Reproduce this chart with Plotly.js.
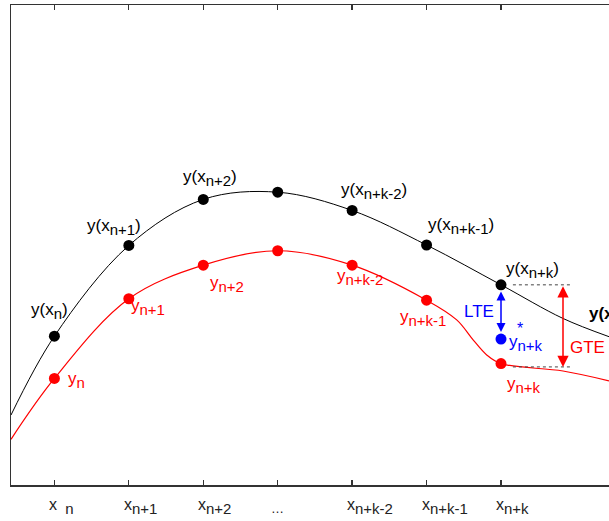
<!DOCTYPE html>
<html>
<head>
<meta charset="utf-8">
<script src="https://cdn.plot.ly/plotly-3.0.1.min.js"></script>
<style>html,body{margin:0;padding:0;background:#fff;overflow:hidden;}#chart{width:609px;height:521px;}</style>
</head>
<body>
<div id="chart"></div>
<script>
// ---- data ----
const tickPos = [0, 1, 2, 3, 4, 5, 6];
const tickSubs = ["\u00a0\u00a0n", "n+1", "n+2", null, "n+k-2", "n+k-1", "n+k"];
const exactY = [3.10, 4.99, 5.95, 6.10, 5.72, 5.00, 4.17];     // y(x_i)
const numY   = [2.22, 3.88, 4.58, 4.88, 4.58, 3.85, 2.53];     // y_i
const predX = 6;
const predY = 3.04;                                            // y*_{n+k}
const exactCurveX = [-0.583, 0, 1, 2, 3, 4, 5, 6, 6.833, 7.451];
const exactCurveY = [1.458, 3.10, 4.99, 5.95, 6.10, 5.72, 5.00, 4.17, 3.47, 3.09];
const numCurveX = [-0.583, 0, 1, 2, 3, 4, 5, 5.405, 5.628, 5.808, 6, 6.833, 7.451];
const numCurveY = [0.952, 2.22, 3.88, 4.58, 4.88, 4.58, 3.85, 3.44, 3.02, 2.71, 2.53, 2.375, 2.17];
const lteTop = 4.06, lteBottom = 3.19;
const gteX = 6.833, gteTop = 4.17, gteBottom = 2.46;
const dotEndX = 6.954;
const exactLabelSubs = ["n", "n+1", "n+2", null, "n+k-2", "n+k-1", "n+k"];
const numLabelSubs   = ["n", "n+1", "n+2", null, "n+k-2", "n+k-1", "n+k"];

// ---- styling ----
const FONT = "Liberation Sans, Arial, Helvetica, sans-serif";
// subscript: wrapper span sets size, <sub> takes 70% of it
const sub = (s, px) => `<span style="font-size:${(px / 0.7).toFixed(1)}px"><sub>${s}</sub></span>`;

const traces = [
  {x: exactCurveX, y: exactCurveY, mode: "lines", line: {color: "#000", width: 1, shape: "spline", smoothing: 1}, hoverinfo: "skip"},
  {x: numCurveX, y: numCurveY, mode: "lines", line: {color: "#ff0000", width: 1.2, shape: "spline", smoothing: 1}, hoverinfo: "skip"},
  {x: tickPos, y: exactY, mode: "markers", marker: {color: "#000", size: 11}},
  {x: tickPos, y: numY, mode: "markers", marker: {color: "#ff0000", size: 11}},
  {x: [predX], y: [predY], mode: "markers", marker: {color: "#0000ff", size: 11}}
];

// label offsets (pixels) relative to their points
const exactShift = [[-5, 25], [-15, 18.5], [7, 21], null, [21.7, 19.3], [34.3, 19], [31.5, 14.4]];
const numShift   = [[22, -1.5], [19, -8.5], [24, -19], null, [7.7, -12], [-4, -18], [22.6, -21]];

const ann = [];
// x tick labels (x sits at the tick, subscript hangs to the right)
tickPos.forEach((xv, i) => {
  const isDots = tickSubs[i] === null;
  ann.push({x: xv, y: 0, xref: "x", yref: "y", showarrow: false,
    text: isDots ? "…" : "x" + sub(tickSubs[i], 15),
    xanchor: isDots ? "center" : "left", yanchor: "top",
    xshift: isDots ? 0 : -7, yshift: isDots ? -14 : -9,
    font: {family: FONT, size: isDots ? 13 : 16, color: "#222"}});
});
tickPos.forEach((xv, i) => {
  if (exactLabelSubs[i] !== null) {
    ann.push({x: xv, y: exactY[i], xref: "x", yref: "y", showarrow: false,
      text: "y(x" + sub(exactLabelSubs[i], 15) + ")", xshift: exactShift[i][0], yshift: exactShift[i][1],
      font: {family: FONT, size: 17, color: "#000"}});
  }
  if (numLabelSubs[i] !== null) {
    ann.push({x: xv, y: numY[i], xref: "x", yref: "y", showarrow: false,
      text: "y" + sub(numLabelSubs[i], 15), xshift: numShift[i][0], yshift: numShift[i][1],
      font: {family: FONT, size: 17, color: "#ff0000"}});
  }
});
// predicted value label
ann.push({x: predX, y: predY, xref: "x", yref: "y", showarrow: false, text: "y" + sub("n+k", 15),
  xshift: 25, yshift: -4, font: {family: FONT, size: 17, color: "#0000ff"}});
ann.push({x: predX, y: predY, xref: "x", yref: "y", showarrow: false, text: "*",
  xshift: 18.6, yshift: 11, font: {family: FONT, size: 16, color: "#0000ff"}});
// LTE arrow + label
ann.push({x: predX, y: lteBottom, ax: predX, ay: lteTop, xref: "x", yref: "y", axref: "x", ayref: "y",
  text: "", showarrow: true, arrowside: "end+start", arrowhead: 2, arrowsize: 1.2, arrowwidth: 1.5,
  arrowcolor: "#0000ff", standoff: 0, startstandoff: 0});
ann.push({x: predX, y: exactY[6], xref: "x", yref: "y", showarrow: false, text: "LTE",
  xshift: -22, yshift: -27, font: {family: FONT, size: 17, color: "#0000ff"}});
// GTE arrow + label
ann.push({x: gteX, y: gteBottom, ax: gteX, ay: gteTop, xref: "x", yref: "y", axref: "x", ayref: "y",
  text: "", showarrow: true, arrowside: "end+start", arrowhead: 2, arrowsize: 1.5, arrowwidth: 1.5,
  arrowcolor: "#ff0000", standoff: 0, startstandoff: 0});
ann.push({x: gteX, y: (gteTop + gteBottom) / 2, xref: "x", yref: "y", showarrow: false, text: "GTE",
  xshift: 24, yshift: -22, font: {family: FONT, size: 17, color: "#ff0000"}});
// curve name at right edge (cut by the window edge as in the reference)
ann.push({x: exactCurveX[8], y: exactCurveY[8], xref: "x", yref: "y", showarrow: false, text: "<b>y(x)</b>",
  xanchor: "left", xshift: 24, yshift: 5, font: {family: FONT, size: 17, color: "#000"}});

const shapes = [
  {type: "line", xref: "x", yref: "y", x0: tickPos[6] + 0.16, x1: dotEndX, y0: exactY[6], y1: exactY[6],
   line: {color: "#444", width: 1, dash: "dot"}},
  {type: "line", xref: "x", yref: "y", x0: tickPos[6] + 0.16, x1: dotEndX, y0: gteBottom, y1: gteBottom,
   line: {color: "#444", width: 1, dash: "dot"}}
];

const layout = {
  width: 609, height: 521,
  margin: {l: 11, r: 0, t: 5, b: 36, pad: 0},
  paper_bgcolor: "#fff", plot_bgcolor: "#fff",
  showlegend: false,
  font: {family: FONT, color: "#222"},
  xaxis: {range: [-0.583, 7.451], tickvals: tickPos, showticklabels: false, ticks: "inside", ticklen: 5,
          tickwidth: 1.3, tickcolor: "#333", showline: true, linecolor: "#333", linewidth: 1.5,
          mirror: "ticks", showgrid: false, zeroline: false},
  yaxis: {range: [0, 10], showticklabels: false, ticks: "", showline: true, linecolor: "#333",
          linewidth: 1.5, showgrid: false, zeroline: false},
  annotations: ann,
  shapes: shapes
};

Plotly.newPlot("chart", traces, layout, {displayModeBar: false, staticPlot: true});
</script>
</body>
</html>
